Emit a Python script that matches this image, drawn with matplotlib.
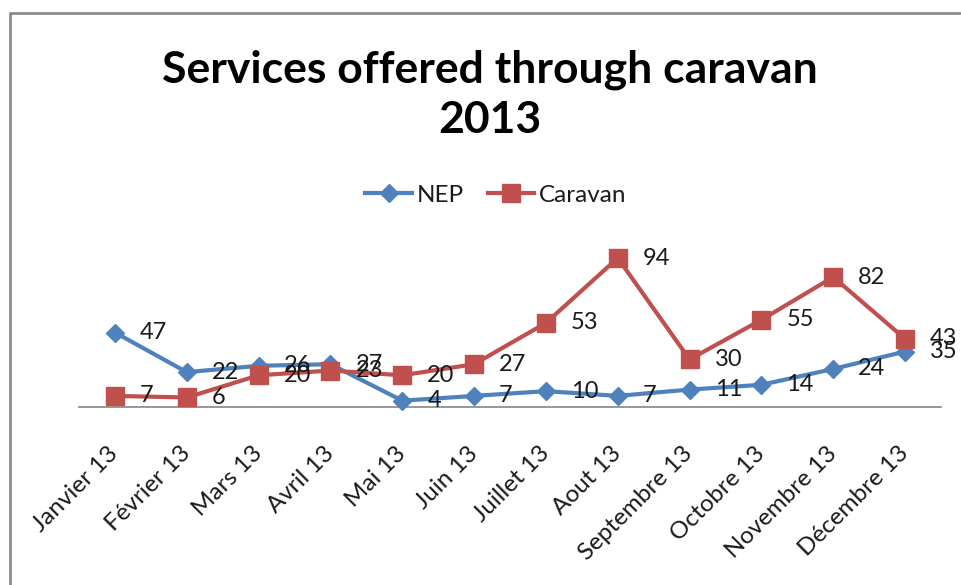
import matplotlib.pyplot as plt
from matplotlib.lines import Line2D

# Monthly counts for 2013
months = ['Janvier 13', 'Février 13', 'Mars 13', 'Avril 13', 'Mai 13', 'Juin 13',
          'Juillet 13', 'Aout 13', 'Septembre 13', 'Octobre 13', 'Novembre 13', 'Décembre 13']
nep = [47, 22, 26, 27, 4, 7, 10, 7, 11, 14, 24, 35]
caravan = [7, 6, 20, 23, 20, 27, 53, 94, 30, 55, 82, 43]

plt.rcParams['font.family'] = ['Lato', 'DejaVu Sans']

W, H = 961, 585
fig = plt.figure(figsize=(W / 100, H / 100), dpi=100)
fig.patch.set_facecolor('white')

# plot area in pixel terms -> figure fractions
left, right, y0, y100 = 79, 941, 407, 248.5
ax = fig.add_axes([left / W, 1 - y0 / H, (right - left) / W, (y0 - y100) / H])
ax.set_facecolor('none')

x = list(range(len(months)))
ax.plot(x, nep, color='#4F81BD', lw=3, marker='D', ms=9.5, mec='#4F81BD',
        label='NEP', clip_on=False, zorder=3)
ax.plot(x, caravan, color='#C0504D', lw=3, marker='s', ms=13.5, mec='#C0504D',
        label='Caravan', clip_on=False, zorder=4)

# value labels to the right of each point
for xi, v in zip(x, nep):
    ax.annotate(str(v), (xi, v), xytext=(18, 0), textcoords='offset points',
                ha='left', va='center', fontsize=17, color='#1a1a1a', zorder=5,
                annotation_clip=False)
for xi, v in zip(x, caravan):
    ax.annotate(str(v), (xi, v), xytext=(18, 0), textcoords='offset points',
                ha='left', va='center', fontsize=17, color='#1a1a1a', zorder=5,
                annotation_clip=False)

ax.set_xlim(-0.5, 11.5)
ax.set_ylim(0, 100)
ax.set_yticks([])
ax.set_xticks(x)
ax.set_xticklabels(months, rotation=45, ha='right', va='center',
                   rotation_mode='anchor', fontsize=17.5, color='#1a1a1a')
ax.tick_params(axis='x', length=0, pad=31)
for s in ['top', 'right', 'left']:
    ax.spines[s].set_visible(False)
ax.spines['bottom'].set_color('#868686')
ax.spines['bottom'].set_linewidth(1.2)

fig.text(490 / W, 1 - 95 / H, 'Services offered through caravan\n2013',
         ha='center', va='center', fontsize=32, fontweight='bold',
         linespacing=1.3, color='black')

fig.legend(loc='center', bbox_to_anchor=(496 / W, 1 - 195 / H), ncol=2,
           frameon=False, fontsize=17.5, handlelength=1.9, handletextpad=0.2,
           columnspacing=1.0, labelcolor='#1a1a1a')

# outer chart border (left and top edges)
fig.add_artist(Line2D([10 / W, 10 / W, 1.0], [0.0, 1 - 13 / H, 1 - 13 / H],
                      transform=fig.transFigure, color='#8c8c8c', lw=2))

fig.savefig('out.png', dpi=100)
